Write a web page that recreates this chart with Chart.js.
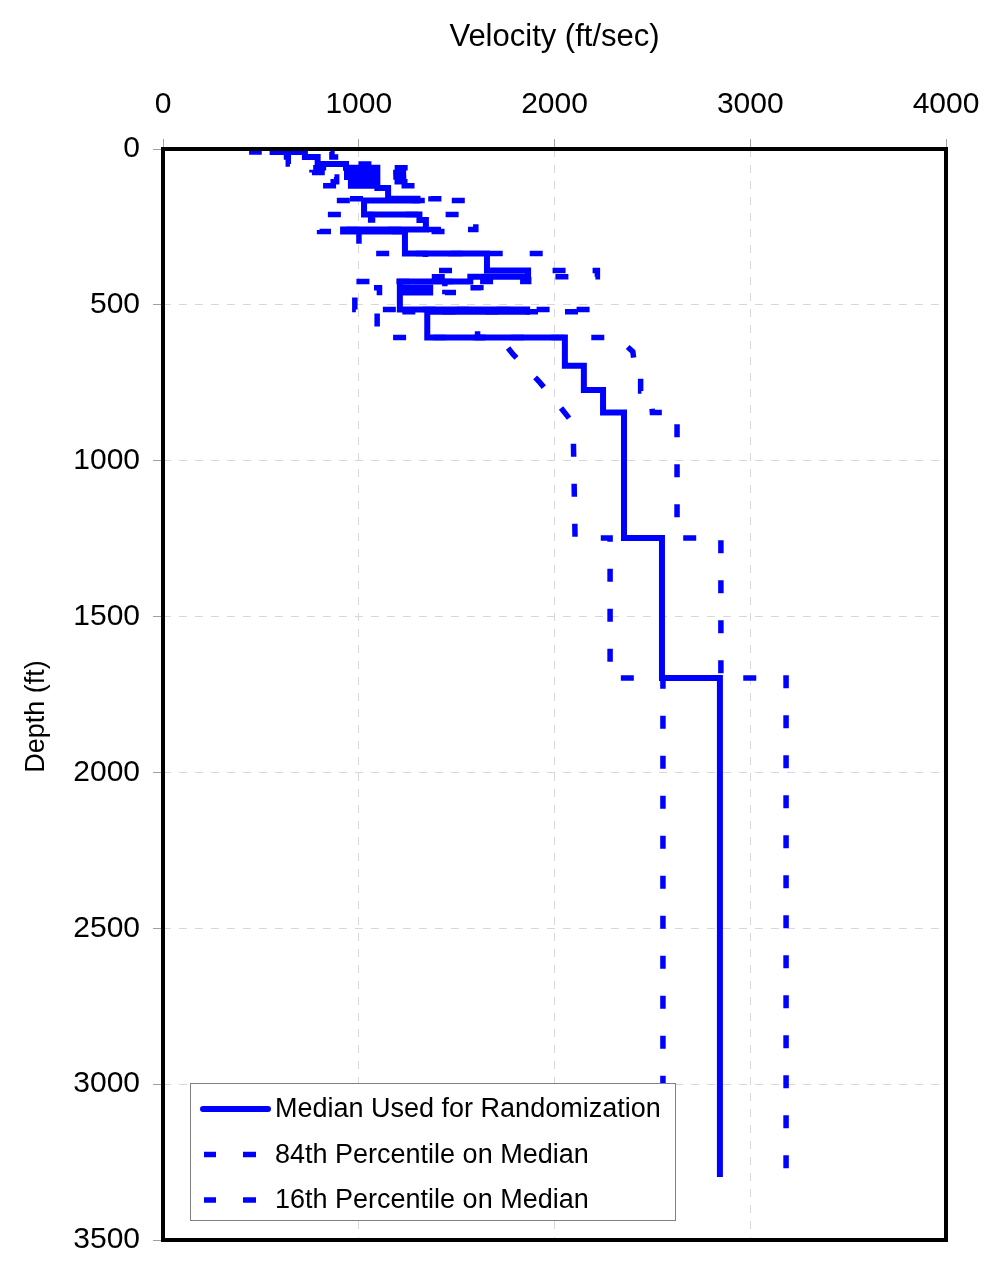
<!DOCTYPE html>
<html><head><meta charset="utf-8">
<script src="https://cdn.jsdelivr.net/npm/chart.js@4/dist/chart.umd.min.js"></script>
<style>html,body{margin:0;padding:0;background:#fff}canvas{display:block}</style>
</head><body>
<canvas id="c" width="1000" height="1287"></canvas>
<script>
// ---------- data (velocity in ft/sec, depth in ft) ----------
const seriesLabels = ['Median Used for Randomization', '84th Percentile on Median', '16th Percentile on Median'];
const xTitle = 'Velocity (ft/sec)';
const yTitle = 'Depth (ft)';
const xTicks = [0, 1000, 2000, 3000, 4000];
const yTicks = [0, 500, 1000, 1500, 2000, 2500, 3000, 3500];

const medianVelocity = [560,560,725,725,790,790,935,935,1095,1095,940,940,1095,1095,960,960,1095,1095,1150,1150,1300,1300,1027,1027,1310,1310,1343,1343,920,920,1236,1236,1655,1655,1865,1865,1570,1570,1210,1210,1365,1365,1210,1210,1860,1860,1350,1350,2053,2053,2150,2150,2248,2248,2355,2355,2549,2549,2845,2845];
const medianDepth    = [0,10,10,26,26,48,48,60,60,75,75,90,90,105,105,118,118,125,125,160,160,165,165,210,210,228,228,258,258,265,265,335,335,390,390,410,410,425,425,445,445,460,460,515,515,522,522,605,605,695,695,773,773,845,845,1248,1248,1697,1697,3298];

const p84Velocity = [666,666,863,863,940,940,1113,1113,1303,1303,1119,1119,1303,1303,1142,1142,1303,1303,1369,1369,1547,1547,1222,1222,1559,1559,1598,1598,1095,1095,1471,1471,1969,1969,2219,2219,1868,1868,1440,1440,1624,1624,1440,1440,2213,2213,1607,1607,2320,2400,2410,2440,2440,2490,2500,2626,2626,2850,2850,3183,3183];
const p84Depth    = [0,10,10,26,26,48,48,60,60,75,75,90,90,105,105,118,118,125,125,160,160,165,165,210,210,228,228,258,258,265,265,335,335,390,390,410,410,425,425,445,445,460,460,515,515,522,522,605,605,650,696,696,776,776,845,845,1248,1248,1697,1697,3298];

const p16Velocity = [454,454,587,587,640,640,757,757,887,887,761,761,887,887,778,778,887,887,932,932,1053,1053,832,832,1061,1061,1088,1088,800,800,1001,1001,1341,1341,1511,1511,1272,1272,980,980,1106,1106,980,980,1507,1507,1094,1094,1720,1790,1920,2010,2095,2105,2284,2284,2554,2554];
const p16Depth    = [0,10,10,26,26,48,48,60,60,75,75,90,90,105,105,118,118,125,125,160,160,165,165,210,210,228,228,258,258,265,265,335,335,390,390,410,410,425,425,445,445,460,460,515,515,522,522,605,605,660,745,812,880,1248,1248,1697,1697,3298];

// ---------- helpers ----------
const FONT = "'Liberation Sans', Arial, Helvetica, sans-serif";
const BLUE = '#0000ff';
const DASH = [13, 27];
function zip(vs, ds) { return vs.map((v, i) => ({ x: v, y: ds[i] })); }

const boxLegend = {
  id: 'boxLegend',
  afterDatasetsDraw(chart) {
    const ctx = chart.ctx, ca = chart.chartArea;
    ctx.save();
    // plot frame
    ctx.strokeStyle = '#000'; ctx.lineWidth = 4;
    ctx.strokeRect(ca.left, ca.top, ca.right - ca.left, ca.bottom - ca.top);
    // legend box
    const bx = ca.left + 27, bw = 485, bh = 137, by = ca.bottom - 20 - bh;
    ctx.fillStyle = '#fff';
    ctx.fillRect(bx, by, bw, bh);
    ctx.strokeStyle = '#808080'; ctx.lineWidth = 1;
    ctx.strokeRect(bx + 0.5, by + 0.5, bw, bh);
    ctx.font = '27px ' + FONT;
    ctx.textBaseline = 'middle';
    ctx.fillStyle = '#000';
    chart.data.datasets.forEach((ds, i) => {
      const yy = by + 26 + i * 45.5;
      ctx.strokeStyle = ds.borderColor;
      ctx.lineWidth = ds.borderWidth;
      ctx.setLineDash([]);
      if (ds.borderDash && ds.borderDash.length) {
        ctx.lineCap = 'butt';
        ctx.beginPath(); ctx.moveTo(bx + 14, yy); ctx.lineTo(bx + 26, yy); ctx.stroke();
        ctx.beginPath(); ctx.moveTo(bx + 53, yy); ctx.lineTo(bx + 66, yy); ctx.stroke();
      } else {
        ctx.lineCap = 'round';
        ctx.beginPath(); ctx.moveTo(bx + 13, yy); ctx.lineTo(bx + 78, yy); ctx.stroke();
      }
      ctx.fillText(ds.label, bx + 85, yy + 1);
    });
    // vertical axis title
    ctx.save();
    ctx.translate(37, (ca.top + ca.bottom) / 2 + 22);
    ctx.rotate(-Math.PI / 2);
    ctx.textAlign = 'center';
    ctx.textBaseline = 'middle';
    ctx.font = '27px ' + FONT;
    ctx.fillText(yTitle, 0, 0);
    ctx.restore();
    ctx.restore();
  }
};

new Chart(document.getElementById('c'), {
  type: 'scatter',
  data: {
    datasets: [
      { label: seriesLabels[0], data: zip(medianVelocity, medianDepth), showLine: true, borderColor: BLUE, backgroundColor: BLUE, borderWidth: 6, pointRadius: 0, borderJoinStyle: 'miter', borderCapStyle: 'butt', tension: 0 },
      { label: seriesLabels[1], data: zip(p84Velocity, p84Depth), showLine: true, borderColor: BLUE, backgroundColor: BLUE, borderWidth: 5.5, borderDash: DASH, pointRadius: 0, borderJoinStyle: 'miter', borderCapStyle: 'butt', tension: 0 },
      { label: seriesLabels[2], data: zip(p16Velocity, p16Depth), showLine: true, borderColor: BLUE, backgroundColor: BLUE, borderWidth: 5.5, borderDash: DASH, pointRadius: 0, borderJoinStyle: 'miter', borderCapStyle: 'butt', tension: 0 }
    ]
  },
  options: {
    responsive: false,
    animation: false,
    devicePixelRatio: 1,
    layout: { padding: { left: 0, top: 0, right: 54, bottom: 47 } },
    plugins: { legend: { display: false }, tooltip: { enabled: false } },
    scales: {
      x: {
        type: 'linear', position: 'top', min: xTicks[0], max: xTicks[xTicks.length - 1],
        afterBuildTicks(s) { s.ticks = xTicks.map(v => ({ value: v })); },
        ticks: { color: '#000', font: { family: FONT, size: 30 }, padding: 16, maxRotation: 0, autoSkip: false, callback: v => String(v) },
        grid: { color: '#d8d8d8', lineWidth: 1, tickLength: 10, tickColor: '#a0a0a0', tickWidth: 1 },
        border: { display: false, dash: [8, 8] },
        title: { display: true, text: xTitle, color: '#000', font: { family: FONT, size: 31 }, padding: { top: 19, bottom: 0 } },
        afterFit(s) { s.height = 149; }
      },
      y: {
        type: 'linear', reverse: true, min: yTicks[0], max: yTicks[yTicks.length - 1],
        afterBuildTicks(s) { s.ticks = yTicks.map(v => ({ value: v })); },
        ticks: { color: '#000', font: { family: FONT, size: 30 }, padding: 13, autoSkip: false, callback: v => String(v) },
        grid: { color: '#d8d8d8', lineWidth: 1, tickLength: 10, tickColor: '#a0a0a0', tickWidth: 1 },
        border: { display: false, dash: [8, 8] },
        title: { display: false },
        afterFit(s) { s.width = 163; }
      }
    }
  },
  plugins: [boxLegend]
});
</script>
</body></html>
